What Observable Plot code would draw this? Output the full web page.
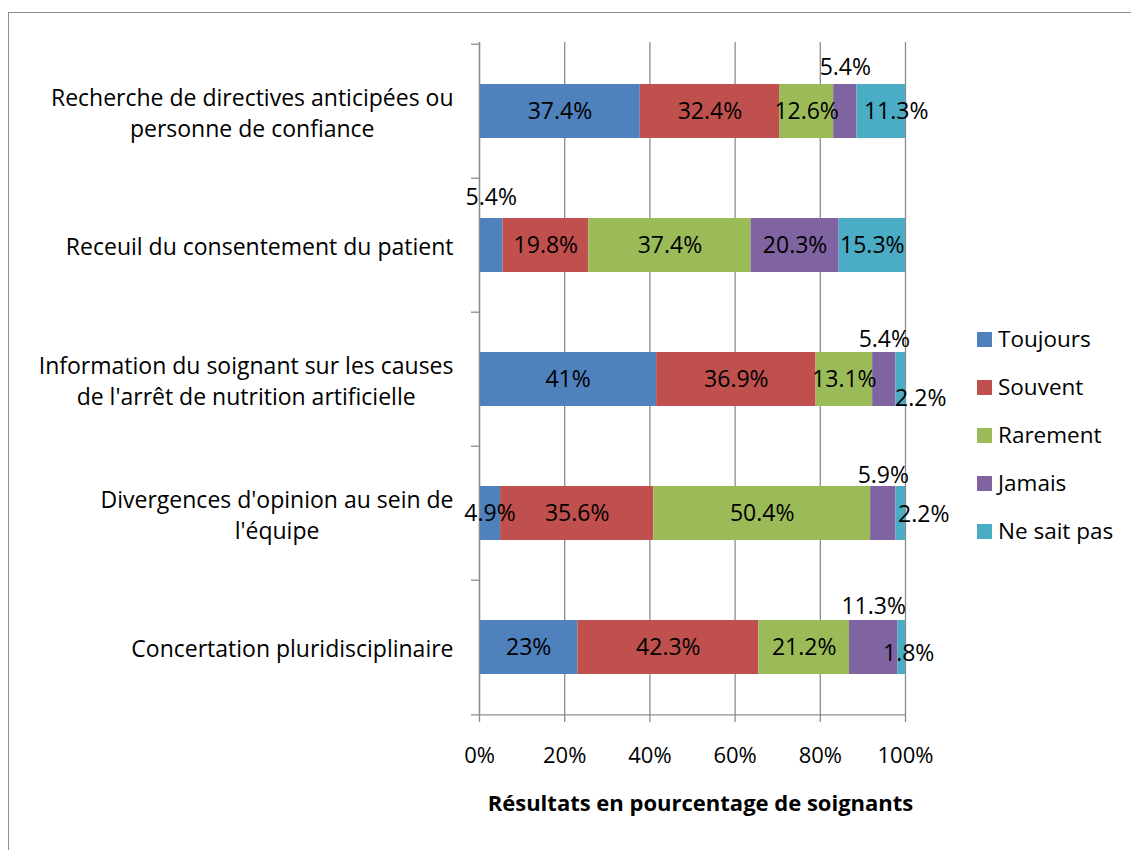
<!DOCTYPE html>
<html>
<head>
<meta charset="utf-8">
<script src="https://cdn.jsdelivr.net/npm/d3@7"></script>
<script src="https://cdn.jsdelivr.net/npm/@observablehq/plot@0.6"></script>
<style>
  html, body { margin: 0; padding: 0; background: #fff; }
  #wrap { position: relative; width: 1131px; height: 850px; overflow: hidden; font-family: "Open Sans", sans-serif; }
  #border { position: absolute; left: 8px; top: 12px; width: 1160px; height: 880px; border: 1px solid #8e8e8e; box-sizing: border-box; }
  #chart { position: absolute; left: 0; top: 0; }
  #legend { position: absolute; left: 977px; top: 320px; }
  .item { position: relative; height: 48px; }
  .sw { position: absolute; left: 0; top: 12px; width: 15px; height: 15px; }
  .lb { position: absolute; left: 21px; top: 0; line-height: 38px; font-size: 22.5px; color: #000; white-space: nowrap; }
</style>
</head>
<body>
<div id="wrap">
  <div id="border"></div>
  <div id="chart"></div>
  <div id="legend"></div>
</div>
<script>
// ---- data ----
const categories = [
  "Recherche de directives anticipées ou\npersonne de confiance",
  "Receuil du consentement du patient",
  "Information du soignant sur les causes\nde l'arrêt de nutrition artificielle",
  "Divergences d'opinion au sein de\nl'équipe",
  "Concertation pluridisciplinaire"
];
const series = ["Toujours", "Souvent", "Rarement", "Jamais", "Ne sait pas"];
const toujours  = [37.4, 5.4, 41, 4.9, 23];
const souvent   = [32.4, 19.8, 36.9, 35.6, 42.3];
const rarement  = [12.6, 37.4, 13.1, 50.4, 21.2];
const jamais    = [5.4, 20.3, 5.4, 5.9, 11.3];
const neSaitPas = [11.3, 15.3, 2.2, 2.2, 1.8];
const xTicks = [0, 0.2, 0.4, 0.6, 0.8, 1];
const axisTitle = "Résultats en pourcentage de soignants";
const colors = ["#4F81BD", "#C0504D", "#9BBB59", "#8064A2", "#4BACC6"];

// ---- label nudges (layout only) ----
const labelNudges = [
  {row: 0, s: "Jamais", dx: 0, dy: -44},
  {row: 0, s: "Ne sait pas", dx: 15, dy: 0},
  {row: 1, s: "Toujours", dx: 0, dy: -48},
  {row: 2, s: "Jamais", dx: 0, dy: -40},
  {row: 2, s: "Ne sait pas", dx: 20, dy: 19},
  {row: 3, s: "Jamais", dx: 0, dy: -38},
  {row: 3, s: "Ne sait pas", dx: 23, dy: 1},
  {row: 4, s: "Jamais", dx: 0, dy: -41},
  {row: 4, s: "Ne sait pas", dx: 7, dy: 6}
];

const seriesValues = [toujours, souvent, rarement, jamais, neSaitPas];
const rows = [];
categories.forEach((c, i) => series.forEach((s, j) => {
  rows.push({category: c, row: i, series: s, value: seriesValues[j][i], label: `${seriesValues[j][i]}%`});
}));

const W = 1131, H = 850;
const mL = 479, mR = W - 905, mT = 42, mB = H - 715;
const step = (H - mT - mB) / categories.length;
const FS = 23;
const FONT = "Open Sans";
const gray = "#8c8c8c";

const isNudged = d => labelNudges.some(n => n.row === d.row && n.s === d.series);
const stackOpts = extra => Plot.stackX({offset: "normalize", x: "value", y: "category", z: "series", ...extra});

// measure text widths for category label placement
const ctx = document.createElement("canvas").getContext("2d");
ctx.font = `${FS}px "${FONT}"`;
const catMarks = categories.map(c => {
  const w = Math.max(...c.split("\n").map(l => ctx.measureText(l).width));
  return Plot.text([c], {
    y: d => d, text: d => d, frameAnchor: "left", textAnchor: "middle",
    dx: -(26 + w / 2), lineHeight: 1.35, fontSize: FS, fill: "#000"
  });
});

const nudgeMarks = labelNudges.map(n => Plot.text(rows, stackOpts({
  text: d => (d.row === n.row && d.series === n.s) ? d.label : null,
  dx: n.dx, dy: n.dy, fontSize: FS, fill: "#000"
})));

const chart = Plot.plot({
  width: W, height: H,
  marginLeft: mL, marginRight: mR, marginTop: mT, marginBottom: mB,
  style: {fontFamily: `"${FONT}", sans-serif`, fontSize: FS + "px", background: "transparent", overflow: "visible"},
  x: {domain: [0, 1], label: null},
  y: {domain: categories, paddingInner: 0.6, paddingOuter: 0.3, axis: null},
  color: {domain: series, range: colors},
  marks: [
    Plot.gridX(xTicks, {stroke: gray, strokeOpacity: 1, strokeWidth: 1.3}),
    Plot.barX(rows, stackOpts({fill: "series"})),
    Plot.ruleX([0], {stroke: gray, strokeWidth: 1.3}),
    Plot.ruleY(categories, {y: d => d, dy: -step / 2, x1: 0, x2: 0, insetLeft: -8, stroke: gray, strokeWidth: 1.3}),
    Plot.ruleY([categories[categories.length - 1]], {y: d => d, dy: step / 2, x1: 0, x2: 1, insetLeft: -8, stroke: gray, strokeWidth: 1.3}),
    Plot.axisX({ticks: xTicks, tickFormat: d3.format(".0%"), tickSize: 7, tickPadding: 25, stroke: gray, strokeWidth: 1.3, fontSize: 22, fill: "#000", label: null}),
    Plot.text(rows, stackOpts({text: d => isNudged(d) ? null : d.label, fontSize: FS, fill: "#000"})),
    ...nudgeMarks,
    ...catMarks,
    Plot.text([axisTitle], {text: d => d, frameAnchor: "bottom", dy: 95, dx: 8, fontWeight: "bold", fontSize: 22, fill: "#000"})
  ]
});
document.getElementById("chart").appendChild(chart);

// legend
const legend = document.getElementById("legend");
series.forEach((s, i) => {
  const item = document.createElement("div");
  item.className = "item";
  item.innerHTML = `<div class="sw" style="background:${colors[i]}"></div><div class="lb">${s}</div>`;
  legend.appendChild(item);
});
</script>
</body>
</html>
